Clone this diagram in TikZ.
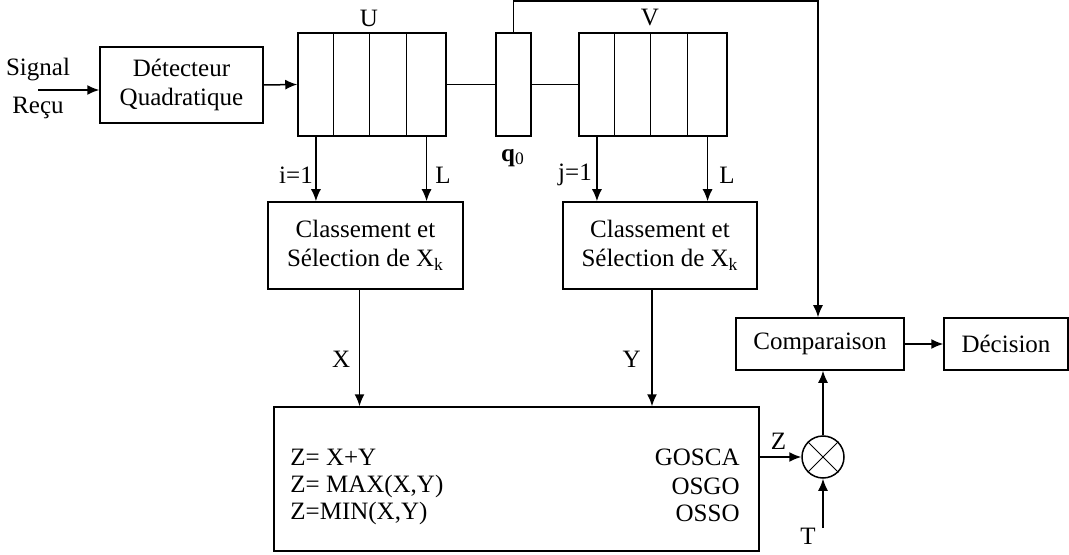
\documentclass[tikz,border=0pt]{standalone}
\usepackage{fontspec}
\setmainfont{Liberation Serif}
\usetikzlibrary{arrows.meta,calc}

\begin{document}
\begin{tikzpicture}[
  x=0.5pt,
  y=-0.5pt,
  font=\fontsize{12.5}{14.5}\selectfont,
  line/.style={draw=black,line width=0.75pt},
  arrow/.style={line,-{Latex[length=6pt,width=5pt]}},
  block/.style={line,rectangle,align=center,inner sep=0pt},
  reg/.style={line,rectangle,inner sep=0pt,minimum width=74pt,minimum height=51.5pt}
]
\useasboundingbox (0,0) rectangle (1069,555);

% =====================================================================
% Input and square-law detector
% =====================================================================
\node (sig) at (38,70) {Signal};
\node (recu) at (38,108) {Reçu};
\coordinate (sin) at (38,90);
\node[block,minimum width=81.5pt,minimum height=38pt] (det) at (181.5,85)
  {Détecteur\\Quadratique};
\draw[arrow] (sin) -- (sin -| det.west);

% =====================================================================
% Registers U, q0, V
% =====================================================================
\node[reg] (U) at (372,84.5) {};
\node[reg] (V) at (653,84.5) {};
\node[line,rectangle,inner sep=0pt,minimum width=17.5pt,minimum height=51.5pt] (q0) at (513.5,84.5) {};
\foreach \r in {U,V}{
  \foreach \f in {0.243,0.483,0.730}
    \draw[line] ($(\r.north west)!\f!(\r.north east)$) -- ($(\r.south west)!\f!(\r.south east)$);
  \coordinate (\r-first) at ($(\r.south west)!0.125!(\r.south east)$);
  \coordinate (\r-last)  at ($(\r.south west)!0.865!(\r.south east)$);
}
\node (Ulab) at (369,18) {U};
\node (Vlab) at (650,18) {V};
\node (q0lab) at (513,158) {\textbf{q}\textsubscript{0}};

\draw[arrow] (det.east) -- (U.west);
\draw[line] (U.east) -- (q0.west);
\draw[line] (q0.east) -- (V.west);

% =====================================================================
% Sorting / selection blocks
% =====================================================================
\node[block,minimum width=97.5pt,minimum height=43.5pt] (cls1) at (365.5,245.5)
  {Classement et\\Sélection de X\textsubscript{k}};
\node[block,minimum width=97pt,minimum height=43.5pt] (cls2) at (660,245.5)
  {Classement et\\Sélection de X\textsubscript{k}};

\draw[arrow] (U-first) -- (U-first |- cls1.north);
\draw[arrow] (U-last)  -- (U-last |- cls1.north);
\draw[arrow] (V-first) -- (V-first |- cls2.north);
\draw[arrow] (V-last)  -- (V-last |- cls2.north);
\node (i1) at (296,175) {i=1};
\node (uL) at (443,175) {L};
\node (j1) at (575,175) {j=1};
\node (vL) at (727,175) {L};

% =====================================================================
% Combination block
% =====================================================================
\node[block,minimum width=242.5pt,minimum height=72pt] (comb) at (516.5,479) {};
\foreach \y/\lft/\rgt in {457/{Z= X+Y}/GOSCA, 486/{Z=\ MAX(X,Y)}/OSGO, 513/{Z=MIN(X,Y)}/OSSO}{
  \node[anchor=west,inner sep=0pt] at (290,\y) {\lft};
  \node[anchor=east,inner sep=0pt] at (740,\y) {\rgt};
}
\draw[arrow] ([xshift=-3pt]cls1.south) -- node[left,pos=0.6,xshift=-1pt] {X}
  ([xshift=-3pt]cls1.south |- comb.north);
\draw[arrow] ([xshift=-4pt]cls2.south) -- node[left,pos=0.6,xshift=-2pt] {Y}
  ([xshift=-4pt]cls2.south |- comb.north);

% =====================================================================
% Threshold comparison and decision
% =====================================================================
\node[line,circle,minimum size=21pt,inner sep=0pt] (mult) at (823,457) {};
\draw[line,line width=0.5pt] (mult.north west) -- (mult.south east)
                             (mult.north east) -- (mult.south west);
\node[block,minimum width=84pt,minimum height=26pt] (comp) at (820,344) {Comparaison};
\node[block,minimum width=62pt,minimum height=26pt] (dec) at (1006,344) {Décision};

\draw[arrow] (mult.west -| comb.east) -- node[above,pos=0.45] {Z} (mult.west);
\coordinate (tin) at (823,528);
\node (T) at (808,536) {T};
\draw[arrow] (tin) -- (mult.south);
\draw[arrow] (mult.north) -- (comp.south -| mult.north);
\draw[arrow] (comp.east) -- (dec.west);
\draw[arrow] (q0.north) -- ++(0,-31) -| ([xshift=-1pt]comp.north);

\end{tikzpicture}
\end{document}
